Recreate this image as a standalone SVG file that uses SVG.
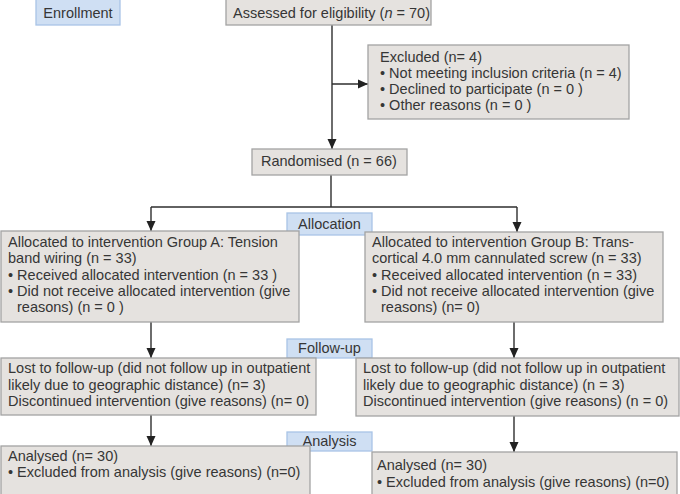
<svg xmlns="http://www.w3.org/2000/svg" width="680" height="494" viewBox="0 0 680 494">
<style>
.box{fill:#e5e2df;stroke:#a3a3a3;stroke-width:1.3}
.lab{fill:#cfdff3;stroke:#a9c4e6;stroke-width:1.3}
text{font-family:"Liberation Sans",Arial,sans-serif;font-size:14.5px;fill:#363636}
.ctr{text-anchor:middle}
.c{stroke:#2e2e2e;stroke-width:1.4;fill:none}
</style>
<defs>
<marker id="ah" markerUnits="userSpaceOnUse" markerWidth="10" markerHeight="10" viewBox="0 0 10 10" refX="10" refY="5" orient="auto">
<path d="M0,0.5 L10,5 L0,9.5 z" fill="#222"/>
</marker>
</defs>
<g id="connectors">
<line class="c" x1="332" y1="25" x2="332" y2="149" marker-end="url(#ah)"/>
<line class="c" x1="332" y1="84" x2="368" y2="84" marker-end="url(#ah)"/>
<line class="c" x1="331" y1="175" x2="331" y2="207"/>
<line class="c" x1="151" y1="207" x2="517" y2="207"/>
<line class="c" x1="151" y1="207" x2="151" y2="231" marker-end="url(#ah)"/>
<line class="c" x1="517" y1="207" x2="517" y2="232" marker-end="url(#ah)"/>
<line class="c" x1="151" y1="322" x2="151" y2="358" marker-end="url(#ah)"/>
<line class="c" x1="514" y1="322" x2="514" y2="358" marker-end="url(#ah)"/>
<line class="c" x1="151" y1="415" x2="151" y2="446" marker-end="url(#ah)"/>
<line class="c" x1="514" y1="416" x2="514" y2="452" marker-end="url(#ah)"/>
</g>
<g id="enrollment">
<rect class="lab" x="36" y="-5" width="84" height="30"/>
<text class="ctr" x="78" y="18">Enrollment</text>
</g>
<g id="assessed">
<rect class="box" x="226" y="-5" width="205" height="30"/>
<text x="233" y="18" textLength="197" lengthAdjust="spacingAndGlyphs">Assessed for eligibility (<tspan font-style="italic">n</tspan> = 70)</text>
</g>
<g id="excluded">
<rect class="box" x="368" y="45" width="261" height="74"/>
<text x="380" y="62">Excluded (n= 4)</text>
<text x="380" y="78">• Not meeting inclusion criteria (n = 4)</text>
<text x="380" y="94">• Declined to participate (n = 0 )</text>
<text x="380" y="110">• Other reasons (n = 0 )</text>
</g>
<g id="randomised">
<rect class="box" x="252" y="149" width="155" height="26"/>
<text x="261" y="166">Randomised (n = 66)</text>
</g>
<g id="allocation">
<rect class="lab" x="287" y="213" width="85" height="22"/>
<text class="ctr" x="329.5" y="229">Allocation</text>
</g>
<g id="groupA">
<rect class="box" x="1" y="231" width="298" height="91"/>
<text x="8" y="247">Allocated to intervention Group A: Tension</text>
<text x="8" y="263">band wiring (n = 33)</text>
<text x="8" y="280">• Received allocated intervention (n = 33 )</text>
<text x="8" y="296">• Did not receive allocated intervention (give</text>
<text x="17" y="312">reasons) (n = 0 )</text>
</g>
<g id="groupB">
<rect class="box" x="365" y="232" width="298" height="90"/>
<text x="372" y="247">Allocated to intervention Group B: Trans-</text>
<text x="372" y="263">cortical 4.0 mm cannulated screw (n = 33)</text>
<text x="372" y="280">• Received allocated intervention (n = 33)</text>
<text x="372" y="296">• Did not receive allocated intervention (give</text>
<text x="381" y="312">reasons) (n= 0)</text>
</g>
<g id="followup">
<rect class="lab" x="287" y="339" width="85" height="19"/>
<text class="ctr" x="329.5" y="353">Follow-up</text>
</g>
<g id="followA">
<rect class="box" x="1" y="358" width="315" height="57"/>
<text x="8" y="373">Lost to follow-up (did not follow up in outpatient</text>
<text x="8" y="390">likely due to geographic distance) (n= 3)</text>
<text x="8" y="406">Discontinued intervention (give reasons) (n= 0)</text>
</g>
<g id="followB">
<rect class="box" x="356" y="358" width="323" height="58"/>
<text x="363" y="373">Lost to follow-up (did not follow up in outpatient</text>
<text x="363" y="390">likely due to geographic distance) (n = 3)</text>
<text x="363" y="406">Discontinued intervention (give reasons) (n = 0)</text>
</g>
<g id="analysis">
<rect class="lab" x="287" y="432" width="85" height="19"/>
<text class="ctr" x="329.5" y="446">Analysis</text>
</g>
<g id="analysedA">
<rect class="box" x="1" y="446" width="309" height="54"/>
<text x="8" y="461">Analysed (n= 30)</text>
<text x="8" y="477">• Excluded from analysis (give reasons) (n=0)</text>
</g>
<g id="analysedB">
<rect class="box" x="372" y="452" width="305" height="48"/>
<text x="377" y="470">Analysed (n= 30)</text>
<text x="377" y="487">• Excluded from analysis (give reasons) (n=0)</text>
</g>
</svg>
